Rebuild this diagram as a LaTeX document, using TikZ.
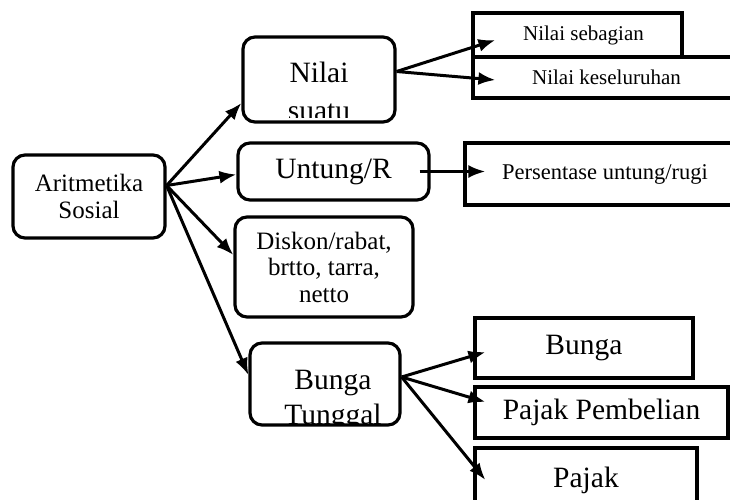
\documentclass[tikz,border=0pt]{standalone}
\usepackage{fontspec}
\setmainfont{Liberation Serif}
\usetikzlibrary{arrows.meta}
\begin{document}
\begin{tikzpicture}[x=1pt, y=-1pt, line width=3.2pt,
  topic/.style={draw, rounded corners=12pt, inner sep=0pt, align=center},
  subbox/.style={draw, inner sep=0pt},
  big/.style={font=\fontsize{29.5}{35}\selectfont},
  mid/.style={font=\fontsize{25}{27.5}\selectfont},
  small/.style={font=\fontsize{21}{24}\selectfont},
  link/.style={-{Latex[length=17pt,width=13pt]}, line width=3pt}]
\clip (0,0) rectangle (730,500);
\fill[white] (0,0) rectangle (730,500);

% main topics
\node[topic, mid, minimum width=152pt, minimum height=83pt] (arit) at (89,196.5) {Aritmetika\\Sosial};
\node[topic, minimum width=152pt, minimum height=85pt] (nilai) at (319,79.5) {};
\node[topic, big, minimum width=191pt, minimum height=57pt] (untung) at (333.5,171.5) {Untung/R};
\node[topic, font=\fontsize{25}{26.5}\selectfont, minimum width=178pt, minimum height=100pt] (diskon) at (324,267) {Diskon/rabat,\\brtto, tarra,\\netto};
\node[topic, minimum width=150pt, minimum height=82pt] (tunggal) at (325,384) {};

% texts cut by the box border
\begin{scope}
\clip (243,37) rectangle (395,118);
\node[big, anchor=base] (nilaiA) at (319,83) {Nilai};
\node[big, anchor=base] (nilaiB) at (319,121) {suatu};
\end{scope}
\begin{scope}
\clip (250,343) rectangle (400,425);
\node[big, anchor=base] (tunggalA) at (333,389.5) {Bunga};
\node[big, anchor=base] (tunggalB) at (333,424.5) {Tunggal};
\end{scope}

% sub topics
\node[subbox, small, minimum width=209pt, minimum height=44pt] (sebagian) at (577.5,35) {\hspace{12pt}Nilai sebagian};
\node[subbox, small, minimum width=267pt, minimum height=41pt] (kesel) at (606.5,77.5) {Nilai keseluruhan};
\node[subbox, font=\fontsize{22.5}{26}\selectfont, minimum width=280pt, minimum height=62pt] (persen) at (605,174) {Persentase untung/rugi};
\node[subbox, big, minimum width=218pt, minimum height=60pt] (bunga) at (584,348) {Bunga};
\node[subbox, big, minimum width=253pt, minimum height=51pt] (pembelian) at (601.5,412.5) {Pajak Pembelian};
\node[subbox, big, minimum width=222pt, minimum height=64pt] (pajak) at (586,480) {Pajak};

% connectors
\foreach \target/\dy in {nilai/-23.5, untung/-3, diskon/12, tunggal/9}
\draw[link] ([yshift=11pt]arit.east) -- ([yshift=\dy pt]\target.west);
\draw[link] ([yshift=8pt]nilai.east) -- ([xshift=24pt,yshift=-5pt]sebagian.west);
\draw[link] ([yshift=8pt]nilai.east) -- ([xshift=24pt,yshift=-2.5pt]kesel.west);
\draw[link, shorten <=-11pt] (untung.east) -- ([xshift=22pt,yshift=2.5pt]persen.west);
\foreach \target/\dy in {bunga/-4, pembelian/10.5, pajak/0}
\draw[link] ([yshift=7pt]tunggal.east) -- ([xshift=12pt,yshift=\dy pt]\target.west);
\end{tikzpicture}
\end{document}
